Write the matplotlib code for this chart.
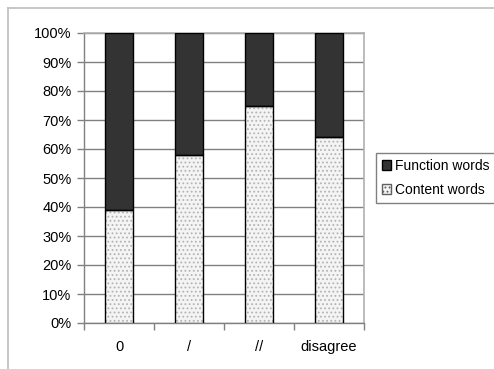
import matplotlib
matplotlib.use("Agg")
import matplotlib.pyplot as plt
from matplotlib.patches import Patch
from matplotlib.lines import Line2D
import numpy as np

categories = ["0", "/", "//", "disagree"]
content_words = [39, 58, 75, 64]
function_words = [61, 42, 25, 36]
y_ticks = [0, 10, 20, 30, 40, 50, 60, 70, 80, 90, 100]

plt.rcParams["font.family"] = ["Liberation Sans", "DejaVu Sans"]
plt.rcParams["font.size"] = 10.5
plt.rcParams["hatch.linewidth"] = 0.8

fig = plt.figure(figsize=(4.94, 3.69), dpi=100)
ax = fig.add_axes([84 / 494, 46 / 369, 280 / 494, 290 / 369])

x = np.arange(len(categories))
width = 0.41
dark = "#333333"
light = "#f4f4f4"

# content words: dotted fill, then a black outline on top
ax.bar(x, content_words, width, color=light, edgecolor="#b4b4b4", hatch="....",
       linewidth=0, zorder=3)
ax.bar(x, content_words, width, fill=False, edgecolor="black", linewidth=1.0, zorder=4)
ax.bar(x, function_words, width, bottom=content_words, color=dark,
       edgecolor="black", linewidth=1.0, zorder=3)

ax.set_xlim(-0.5, len(categories) - 0.5)
ax.set_ylim(0, 100)
ax.set_yticks(y_ticks)
ax.set_yticklabels([f"{v}%" for v in y_ticks])
ax.yaxis.grid(True, color="#808080", linewidth=1.0, zorder=0)
ax.set_axisbelow(True)

ax.set_xticks(x)
ax.set_xticklabels(categories)
ax.set_xticks(np.arange(-0.5, len(categories)), minor=True)
ax.tick_params(axis="x", which="major", length=0, pad=12)
ax.tick_params(axis="x", which="minor", length=5, color="#808080", width=1.0)
ax.tick_params(axis="y", length=5, color="#808080", width=1.0, pad=4)

for side in ["left", "bottom"]:
    ax.spines[side].set_color("#808080")
    ax.spines[side].set_linewidth(1.0)
for side in ["top", "right"]:
    ax.spines[side].set_color("#b0b0b0")
    ax.spines[side].set_linewidth(1.2)

handles = [
    Patch(facecolor=dark, edgecolor="black", label="Function words"),
    Patch(facecolor=light, edgecolor="#606060", hatch="....", label="Content words"),
]
fig.legend(handles=handles, loc="upper left", bbox_to_anchor=(376 / 494, 1 - 153 / 369),
           frameon=True, fancybox=False, edgecolor="#808080", framealpha=1,
           prop={"size": 10},
           handlelength=0.7, handleheight=0.7, handletextpad=0.25, borderpad=0.4,
           borderaxespad=0, labelspacing=0.75)

# outer chart border
fig.add_artist(Line2D([7.5 / 494, 7.5 / 494], [0, 1 - 7.5 / 369], transform=fig.transFigure,
                      color="#bdbdbd", linewidth=1.2))
fig.add_artist(Line2D([7.5 / 494, 1], [1 - 7.5 / 369, 1 - 7.5 / 369], transform=fig.transFigure,
                      color="#bdbdbd", linewidth=1.2))

fig.savefig("out.png", dpi=100)
